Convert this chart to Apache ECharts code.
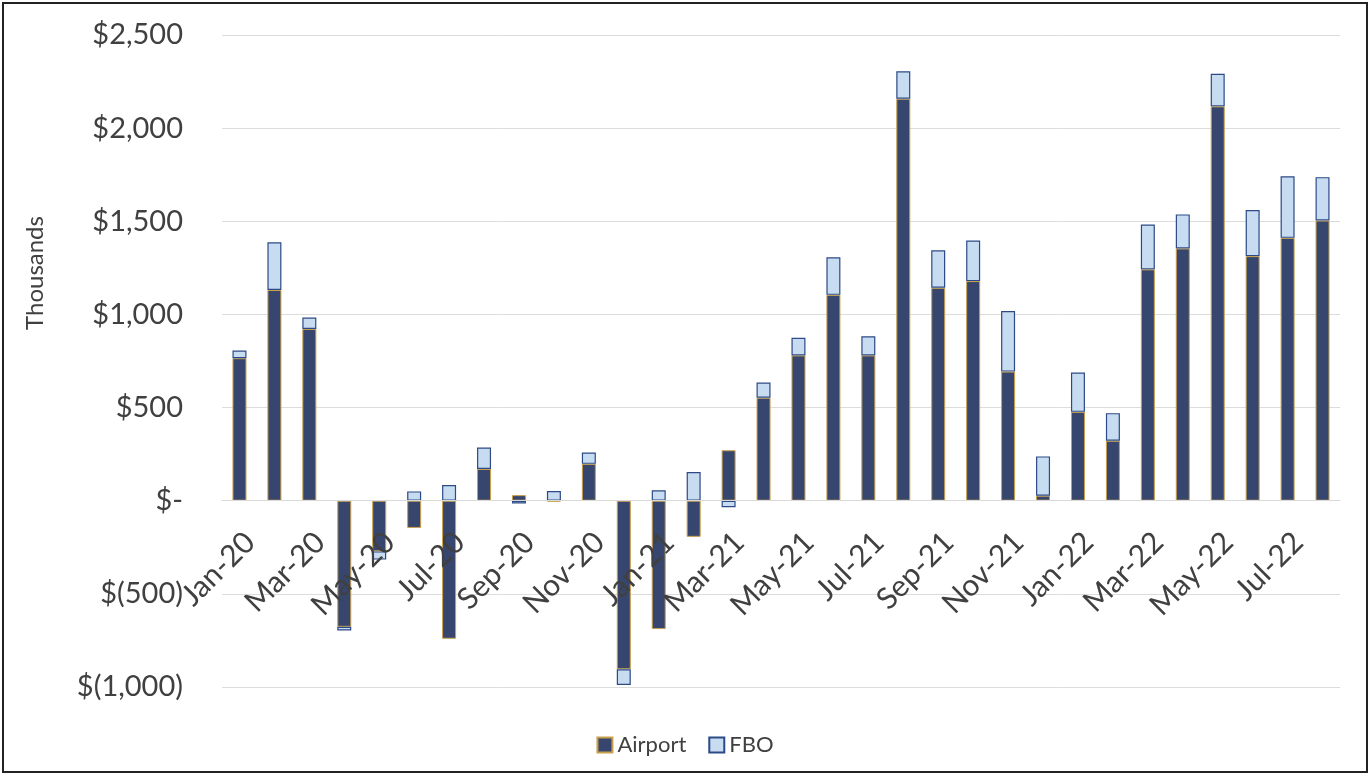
<!DOCTYPE html>
<html>
<head>
<meta charset="utf-8">
<script src="https://cdn.jsdelivr.net/npm/echarts@6/dist/echarts.min.js"></script>
<style>
html,body{margin:0;padding:0;background:#fff;}
#chart{width:1370px;height:776px;}
</style>
</head>
<body>
<div id="chart"></div>
<script>
const categories = ['Jan-20','Feb-20','Mar-20','Apr-20','May-20','Jun-20','Jul-20','Aug-20','Sep-20','Oct-20','Nov-20','Dec-20',
  'Jan-21','Feb-21','Mar-21','Apr-21','May-21','Jun-21','Jul-21','Aug-21','Sep-21','Oct-21','Nov-21','Dec-21',
  'Jan-22','Feb-22','Mar-22','Apr-22','May-22','Jun-22','Jul-22','Aug-22'];
const airport = [765, 1131, 922, -677, -272, -146, -741, 170, 30, -5, 198, -905,
  -689, -194, 271, 553, 780, 1105, 780, 2158, 1143, 1179, 693, 27,
  477, 322, 1242, 1354, 2117, 1313, 1411, 1504];
const fbo = [41, 256, 61, -20, -44, 50, 84, 116, -15, 52, 61, -84,
  56, 154, -35, 81, 95, 202, 103, 147, 201, 218, 325, 211,
  211, 148, 241, 183, 175, 247, 331, 233];
const yTicks = {min: -1000, max: 2500, interval: 500};
const yTitle = 'Thousands';

function fmt(v) {
  if (v === 0) return '$-';
  const s = Math.abs(v).toLocaleString('en-US');
  return v < 0 ? '$(' + s + ')' : '$' + s;
}

const W = 1370, H = 776;
const gridTop = 35, gridBottom = 89;
const gridH = H - gridTop - gridBottom;
// distance from bottom of grid to the zero line, derived from the value scale
const zeroOffset = gridH * (0 - yTicks.min) / (yTicks.max - yTicks.min);

const chart = echarts.init(document.getElementById('chart'));
const font = 'Lato, "Open Sans", sans-serif';
chart.setOption({
  animation: false,
  backgroundColor: '#fff',
  textStyle: {fontFamily: font},
  grid: {left: 222, right: 30, top: gridTop, bottom: gridBottom, containLabel: false},
  legend: {
    data: ['Airport', 'FBO'],
    top: 729,
    left: 'center',
    icon: 'rect',
    itemWidth: 15,
    itemHeight: 15,
    itemGap: 22,
    textStyle: {fontSize: 22, color: '#404040', fontFamily: font}
  },
  xAxis: {
    type: 'category',
    data: categories,
    zlevel: 1,
    offset: -zeroOffset,
    axisLine: {onZero: false, lineStyle: {color: '#d9d9d9', width: 1}},
    axisTick: {show: false},
    axisLabel: {interval: 1, rotate: 45, fontSize: 30, color: '#404040', margin: 26,
      verticalAlign: 'top', fontFamily: font}
  },
  yAxis: {
    type: 'value',
    min: yTicks.min,
    max: yTicks.max,
    interval: yTicks.interval,
    axisLine: {show: false},
    axisTick: {show: false},
    splitLine: {lineStyle: {color: '#dcdcdc', width: 1}},
    axisLabel: {formatter: fmt, fontSize: 29, color: '#404040', margin: 39, fontFamily: font}
  },
  series: [
    {
      name: 'Airport',
      type: 'bar',
      stack: 'total',
      data: airport,
      barWidth: 14,
      itemStyle: {color: '#36466f', borderColor: '#c9a04a', borderWidth: 1}
    },
    {
      name: 'FBO',
      type: 'bar',
      stack: 'total',
      data: fbo,
      barWidth: 14,
      itemStyle: {color: '#c7dcf0', borderColor: '#2c4a86', borderWidth: 1.2}
    }
  ],
  graphic: [
    {
      type: 'text',
      x: 35, y: 273,
      rotation: Math.PI / 2,
      style: {text: yTitle, fontSize: 24, fill: '#404040', fontFamily: font,
        align: 'center', verticalAlign: 'middle'},
      silent: true
    },
    {
      type: 'rect',
      shape: {x: 3, y: 3, width: 1364, height: 769},
      style: {fill: 'none', stroke: '#222', lineWidth: 2},
      silent: true
    }
  ]
});
</script>
</body>
</html>
